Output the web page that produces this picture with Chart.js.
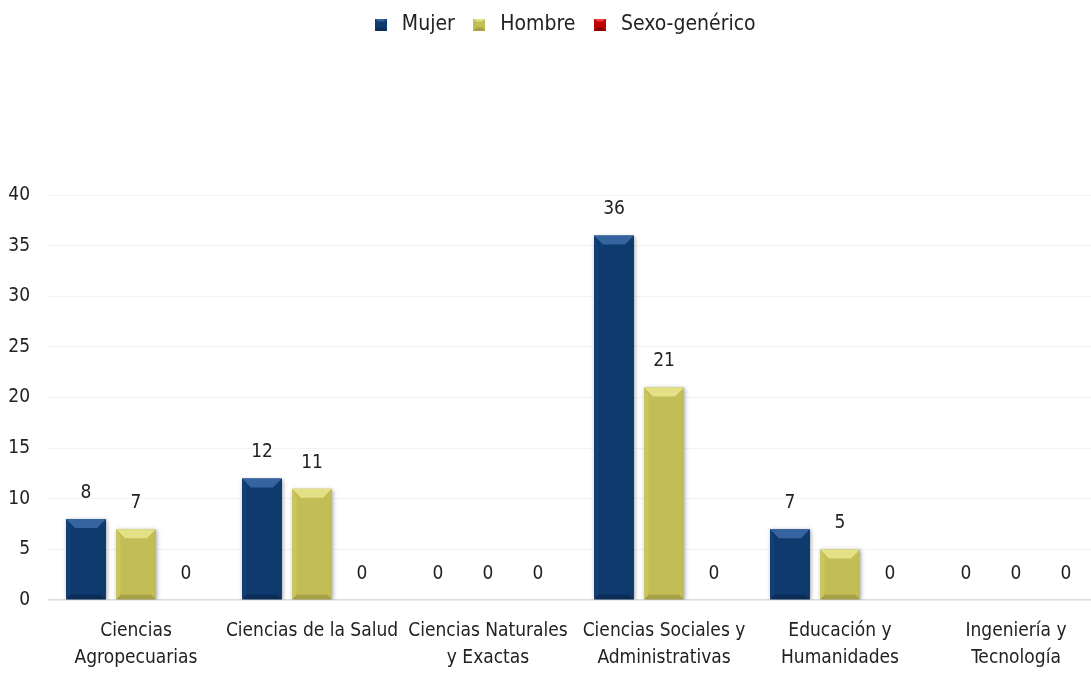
<!DOCTYPE html>
<html>
<head>
<meta charset="utf-8">
<script src="https://cdn.jsdelivr.net/npm/chart.js@4.4.1/dist/chart.umd.min.js"></script>
<style>
  html, body { margin: 0; padding: 0; background: #fff; overflow: hidden; }
  #wrap { width: 1104px; height: 675px; position: relative; }
</style>
</head>
<body>
<div id="wrap"><canvas id="chart"></canvas></div>
<script>
const categories = [
  ["Ciencias", "Agropecuarias"],
  "Ciencias de la Salud",
  ["Ciencias Naturales", "y Exactas"],
  ["Ciencias Sociales y", "Administrativas"],
  ["Educación y", "Humanidades"],
  ["Ingeniería y", "Tecnología"]
];
const mujer = [8, 12, 0, 36, 7, 0];
const hombre = [7, 11, 0, 21, 5, 0];
const sexoGenerico = [0, 0, 0, 0, 0, 0];
const yTicks = [0, 5, 10, 15, 20, 25, 30, 35, 40];

const FONT = "'Liberation Sans Narrow', 'DejaVu Sans Condensed', 'Liberation Sans', sans-serif";

// base, light (top bevel), dark (bottom bevel) for each series
const palette = [
  { base: "#0f3a6e", light: "#3564a0", dark: "#0b2d58", side: "#123f78" },
  { base: "#c2bd57", light: "#e4e086", dark: "#a5a146", side: "#cbc661" },
  { base: "#c00000", light: "#e84040", dark: "#8c0000", side: "#cc1010" }
];

function bevelSwatch(p) {
  const c = document.createElement("canvas");
  c.width = 12; c.height = 12;
  const g = c.getContext("2d");
  g.fillStyle = p.base; g.fillRect(0, 0, 12, 12);
  g.fillStyle = p.light;
  g.beginPath(); g.moveTo(0, 0); g.lineTo(12, 0); g.lineTo(9, 3); g.lineTo(3, 3); g.closePath(); g.fill();
  g.fillStyle = p.dark;
  g.beginPath(); g.moveTo(0, 12); g.lineTo(12, 12); g.lineTo(9, 9); g.lineTo(3, 9); g.closePath(); g.fill();
  return c;
}

function drawBevel(ctx, bar, p) {
  const left = bar.x - bar.width / 2, right = bar.x + bar.width / 2;
  const top = bar.y, bottom = bar.base;
  const h = bottom - top;
  if (h <= 0) return;
  const b = Math.min(9, h / 2, bar.width / 2);
  ctx.fillStyle = p.light;
  ctx.beginPath();
  ctx.moveTo(left, top); ctx.lineTo(right, top);
  ctx.lineTo(right - b, top + b); ctx.lineTo(left + b, top + b);
  ctx.closePath(); ctx.fill();
  ctx.fillStyle = p.dark;
  ctx.beginPath();
  ctx.moveTo(left, bottom); ctx.lineTo(right, bottom);
  ctx.lineTo(right - b * 0.5, bottom - b * 0.5); ctx.lineTo(left + b * 0.5, bottom - b * 0.5);
  ctx.closePath(); ctx.fill();
  ctx.fillStyle = p.side;
  ctx.beginPath();
  ctx.moveTo(left, top); ctx.lineTo(left + b * 0.5, top + b);
  ctx.lineTo(left + b * 0.5, bottom - b * 0.5); ctx.lineTo(left, bottom);
  ctx.closePath(); ctx.fill();
}

const bevelPlugin = {
  id: "bevel",
  beforeDatasetsDraw(chart) {
    const ctx = chart.ctx;
    ctx.save();
    ctx.shadowColor = "rgba(0,0,0,0.35)";
    ctx.shadowBlur = 4;
    ctx.shadowOffsetX = 1;
    ctx.shadowOffsetY = 1;
  },
  afterDatasetsDraw(chart) {
    const ctx = chart.ctx;
    ctx.restore();
    ctx.save();
    chart.data.datasets.forEach((ds, i) => {
      const meta = chart.getDatasetMeta(i);
      meta.data.forEach((bar) => drawBevel(ctx, bar, palette[i]));
    });
    // value labels
    ctx.fillStyle = "#222";
    ctx.font = "19px " + FONT;
    ctx.textAlign = "center";
    ctx.textBaseline = "middle";
    chart.data.datasets.forEach((ds, i) => {
      const meta = chart.getDatasetMeta(i);
      meta.data.forEach((bar, j) => {
        ctx.fillText(String(ds.data[j]), bar.x, bar.y - 26);
      });
    });
    ctx.restore();
  }
};

const legendGap = {
  id: "legendGap",
  beforeInit(chart) {
    const fit = chart.legend.fit;
    chart.legend.fit = function () {
      fit.bind(chart.legend)();
      this.height += 150;
    };
  },
  afterLayout(chart) {
    // legend sits a little right of centre in the original
    chart.legend.left += 11;
    chart.legend.right += 11;
  }
};

const seriesNames = ["Mujer", "Hombre", "Sexo-genérico"];
const seriesData = [mujer, hombre, sexoGenerico];

new Chart(document.getElementById("chart"), {
  type: "bar",
  data: {
    labels: categories,
    datasets: seriesData.map((d, i) => ({
      label: seriesNames[i],
      data: d,
      backgroundColor: palette[i].base,
      borderWidth: 0,
      barPercentage: 0.8,
      categoryPercentage: 0.852,
      pointStyle: bevelSwatch(palette[i])
    }))
  },
  options: {
    responsive: true,
    maintainAspectRatio: false,
    animation: false,
    layout: { padding: { top: 0, left: 0, right: 0, bottom: 0 } },
    plugins: {
      legend: {
        position: "top",
        labels: {
          usePointStyle: true,
          color: "#222",
          padding: 14,
          font: { family: FONT, size: 21 }
        }
      },
      tooltip: { enabled: false }
    },
    scales: {
      x: {
        grid: { display: false, drawTicks: false },
        border: { display: false },
        afterFit(scale) { scale.height = 75; },
        ticks: {
          color: "#222",
          font: { family: FONT, size: 19, lineHeight: 1.45 },
          maxRotation: 0,
          autoSkip: false,
          padding: 17
        }
      },
      y: {
        min: 0,
        max: 40,
        afterBuildTicks(axis) {
          axis.ticks = yTicks.map((v) => ({ value: v }));
        },
        afterFit(scale) { scale.width = 48; },
        grid: {
          color: (c) => (c.tick && c.tick.value === 0 ? "#dcdcdc" : "#f2f2f2"),
          lineWidth: (c) => (c.tick && c.tick.value === 0 ? 1.5 : 1),
          drawTicks: false
        },
        border: { display: false },
        ticks: {
          color: "#222",
          font: { family: FONT, size: 19 },
          padding: 18
        }
      }
    }
  },
  plugins: [bevelPlugin, legendGap]
});
</script>
</body>
</html>
